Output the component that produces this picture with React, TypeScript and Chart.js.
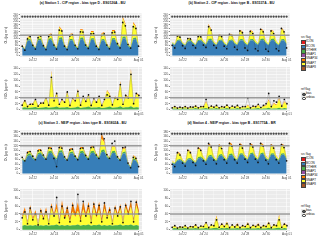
import React, { useEffect, useRef } from "react";
import { Chart, registerables } from "chart.js";
Chart.register(...registerables);

const FONT = "'Liberation Sans', Arial, Helvetica, sans-serif";

// ---- time axis (6-hourly steps from Jul 21 00:00) ----
const STEP_HOURS = 6;
const majorTickHours = [24, 72, 120, 168, 216, 264];
const majorTickLabels = ["Jul 22", "Jul 24", "Jul 26", "Jul 28", "Jul 30", "Aug 01"];
const minorTickHours = [0, 48, 96, 144, 192, 240];
const X_MIN = -5;
const X_MAX = 271;

// ---- source tags ----
const SRC_NAMES = ["ICON", "BCON", "OTHER", "SNAP1", "SNAP34", "SNAP7", "SNAP8"];
const SRC_COLORS = ["#E41A1C", "#377EB8", "#4DAF4A", "#984EA3", "#FF7F00", "#FFFF33", "#A65628"];
const REF_NAMES = ["bias", "unbias"];

const O3_THRESHOLD = 120;
const NO2_THRESHOLD = 40;
const O3_TITLE = "O\u2083 (\u00B5g m\u207B\u00B3)";
const NO2_TITLE = "NO\u2082 (\u00B5g m\u207B\u00B3)";

const stationTitles = [
  "(a)  Station 1 - CIP region - bias type D - ES0126A - BU",
  "(b)  Station 2 - CIP region - bias type B - ES1537A - BU",
  "(c)  Station 3 - NEIP region - bias type B - ES1802A - BU",
  "(d)  Station 4 - NEIP region - bias type B - ES1775A - BR",
];
const o3Max = [240, 240, 180, 180];
const no2Max = [140, 140, 100, 100];

// ---- Station 1 ----
const s1O3Bcon = [50,35,85,90, 55,40,88,92, 52,38,90,95, 55,40,95,98, 50,38,88,90, 52,40,95,98, 55,42,92,95, 50,38,88,90, 55,40,92,95, 58,45,100,102, 55,42,95,98, 50];
const s1O3Other = [6,4,8,8, 6,5,9,8, 6,4,9,9, 7,5,10,10, 6,4,9,8, 7,5,10,9, 6,5,9,9, 6,4,8,8, 7,5,10,9, 7,5,10,10, 6,5,9,9, 6];
const s1O3Snap7 = [5,3,12,15, 6,3,15,18, 6,4,20,22, 8,4,60,40, 8,4,25,28, 8,4,45,40, 10,4,38,35, 8,4,30,35, 8,4,42,40, 12,5,110,70, 12,5,85,60, 8];
const s1O3Snap34 = [2,1,4,4, 2,1,5,5, 2,1,5,6, 3,1,8,6, 2,1,5,6, 3,1,7,6, 3,1,6,6, 2,1,5,6, 3,1,7,6, 3,2,10,8, 3,2,9,7, 2];
const s1O3Obs = [55,32,98,112, 60,38,105,115, 58,35,112,120, 62,38,150,145, 55,35,115,122, 60,40,140,138, 62,42,128,130, 55,36,118,128, 62,40,135,138, 70,45,195,175, 65,44,170,160, 55];
const s1No2Other = [6,8,5,6, 7,9,5,6, 7,9,6,7, 8,10,6,7, 7,9,5,6, 7,10,5,7, 8,10,6,7, 7,9,5,6, 8,10,6,7, 8,11,6,8, 8,11,6,8, 7];
const s1No2Snap7 = [10,22,8,12, 12,25,8,14, 15,30,10,120, 20,45,10,25, 15,50,8,30, 20,55,10,35, 18,40,8,28, 15,35,8,25, 55,40,10,35, 25,80,10,40, 30,120,12,45, 40];
const s1No2Snap34 = [2,3,1,2, 2,3,1,2, 2,4,1,6, 3,5,1,3, 2,5,1,3, 3,5,1,3, 2,4,1,3, 2,4,1,3, 4,4,1,3, 3,6,1,4, 3,8,1,4, 3];
const s1No2Obs = [15,30,10,18, 18,35,12,22, 22,40,15,110, 30,55,18,35, 25,60,14,40, 30,62,15,45, 28,50,14,38, 25,45,14,35, 50,45,16,40, 35,85,18,48, 40,120,20,55, 48];
const s1Flags = "111111111111111111111111111111111111111111111";

// ---- Station 2 ----
const s2O3Bcon = [70,60,85,88, 68,58,82,85, 70,60,85,88, 72,62,90,92, 70,60,85,88, 68,58,85,88, 70,60,88,90, 70,60,88,90, 72,62,90,92, 72,60,90,92, 70,60,88,90, 65];
const s2O3Other = [5,4,7,7, 5,4,7,7, 5,4,7,7, 6,4,8,8, 5,4,7,7, 5,4,7,7, 6,4,8,8, 6,4,8,8, 6,4,8,8, 6,4,8,8, 6,4,8,8, 5];
const s2O3Snap7 = [5,3,25,15, 5,3,12,10, 5,3,22,18, 8,4,80,50, 8,4,28,22, 8,4,32,28, 10,5,50,40, 10,5,48,40, 10,5,55,45, 10,5,48,40, 10,5,62,45, 8];
const s2O3Snap34 = [2,1,4,3, 2,1,3,3, 2,1,4,4, 3,1,8,6, 2,1,4,4, 2,1,5,4, 3,1,6,5, 3,1,6,5, 3,1,7,5, 3,1,6,5, 3,1,7,5, 2];
const s2O3Obs = [60,45,115,108, 58,42,100,98, 60,45,112,110, 62,48,170,150, 60,45,118,112, 55,40,125,118, 50,35,145,135, 45,30,142,130, 40,28,155,140, 38,25,145,130, 40,28,160,140, 45];
const s2No2Other = [3,4,2,3, 3,4,2,3, 3,5,2,3, 4,5,2,4, 3,5,2,3, 3,5,2,3, 3,5,2,3, 3,5,2,3, 4,5,2,4, 4,6,3,4, 4,6,3,5, 4];
const s2No2Snap7 = [3,6,2,4, 3,6,2,5, 4,8,3,6, 5,20,3,8, 4,8,3,6, 4,9,3,7, 4,8,3,6, 4,9,3,6, 5,10,3,8, 8,25,5,15, 10,30,6,20, 12];
const s2No2Snap34 = [1,2,1,1, 1,2,1,1, 1,2,1,1, 1,3,1,2, 1,2,1,1, 1,2,1,1, 1,2,1,1, 1,2,1,1, 1,2,1,2, 2,4,1,3, 2,4,1,3, 2];
const s2No2Obs = [6,10,5,8, 6,10,5,9, 8,12,6,10, 10,35,6,12, 8,14,6,10, 8,15,6,12, 8,14,6,10, 10,40,6,12, 10,18,7,14, 20,55,10,30, 25,45,12,35, 20];
const s2Flags = "111111111111111111111111111111111111111111111";

// ---- Station 3 ----
const s3O3Bcon = [60,50,75,80, 65,55,82,85, 70,58,88,90, 70,60,90,92, 65,55,85,88, 68,58,88,90, 70,60,88,90, 72,62,92,95, 70,60,88,90, 65,55,85,88, 40,25,60,55, 35];
const s3O3Other = [5,4,7,7, 5,4,7,7, 6,5,8,8, 6,5,8,8, 5,4,7,7, 6,5,8,8, 6,5,8,8, 6,5,9,9, 6,5,8,8, 5,4,7,7, 4,3,6,5, 4];
const s3O3Snap7 = [3,2,10,8, 4,2,12,10, 4,2,15,12, 5,3,15,12, 4,2,12,10, 4,2,14,12, 5,3,18,15, 6,3,50,30, 5,3,20,18, 5,3,15,12, 3,2,10,8, 3];
const s3O3Snap34 = [2,1,4,3, 2,1,4,4, 2,1,5,4, 3,1,6,5, 2,1,5,4, 2,1,5,4, 3,1,6,5, 3,2,22,10, 3,1,7,6, 2,1,5,4, 2,1,3,3, 2];
const s3O3Obs = [70,55,90,95, 75,60,98,100, 80,62,110,108, 65,30,112,110, 72,58,102,105, 75,60,108,110, 78,62,112,115, 80,65,170,150, 82,65,130,140, 72,58,112,115, 45,25,70,65, 30];
const s3No2Other = [10,12,10,11, 10,12,9,11, 10,12,10,11, 11,13,10,12, 10,12,10,11, 11,13,10,12, 11,13,10,12, 11,13,10,12, 10,12,10,11, 11,13,10,12, 11,13,10,12, 10];
const s3No2Snap7 = [20,35,8,40, 15,30,6,35, 15,35,8,45, 20,40,8,45, 15,30,10,35, 20,35,12,40, 20,40,10,45, 18,38,10,42, 20,35,8,40, 22,40,10,45, 25,45,12,50, 30];
const s3No2Snap34 = [8,10,3,12, 5,8,2,10, 6,10,3,12, 8,15,5,18, 10,20,8,25, 12,22,10,20, 10,18,8,15, 12,20,8,18, 8,12,4,12, 8,12,5,12, 10,15,5,15, 10];
const s3No2Obs = [30,45,15,55, 25,40,12,48, 28,45,15,58, 35,82,18,60, 30,55,20,62, 40,90,22,72, 35,60,18,65, 38,62,20,68, 30,50,15,55, 35,58,18,62, 40,72,20,70, 40];
const s3Flags = "111111111111111111111111111111111111111111111";

// ---- Station 4 ----
const s4O3Bcon = [45,40,55,58, 50,42,60,62, 52,45,65,68, 58,50,72,75, 60,52,75,78, 62,55,78,80, 62,55,80,82, 65,58,82,85, 65,58,82,85, 62,55,80,82, 62,55,80,82, 60];
const s4O3Other = [4,3,5,5, 4,3,5,5, 4,3,6,5, 5,4,6,6, 5,4,6,6, 5,4,6,6, 5,4,6,6, 5,4,6,6, 5,4,6,6, 5,4,6,6, 5,4,6,6, 4];
const s4O3Snap7 = [5,3,30,20, 6,3,35,25, 6,3,38,28, 8,4,45,35, 8,4,40,30, 8,4,45,35, 8,4,40,30, 8,4,38,28, 8,4,40,30, 8,4,35,28, 8,4,38,30, 6];
const s4O3Snap34 = [2,1,5,4, 2,1,5,4, 2,1,6,5, 3,1,7,6, 3,1,6,5, 3,1,7,6, 3,1,6,5, 3,1,6,5, 3,1,6,5, 3,1,6,5, 3,1,6,5, 2];
const s4O3Obs = [40,30,90,80, 45,32,100,90, 48,35,110,100, 55,40,130,115, 58,42,120,108, 60,45,130,118, 60,45,125,110, 62,48,128,115, 62,48,130,118, 58,42,122,110, 60,45,125,112, 55];
const s4No2Other = [3,4,2,3, 3,4,2,3, 3,4,2,3, 3,5,2,3, 4,5,2,4, 3,5,2,3, 3,4,2,3, 3,5,2,3, 3,4,2,3, 3,5,2,3, 4,5,2,4, 3];
const s4No2Snap7 = [3,6,2,4, 3,7,2,5, 4,8,2,6, 5,12,3,8, 6,28,3,10, 5,14,3,8, 4,10,3,7, 4,12,3,8, 5,10,3,8, 5,14,3,9, 6,30,4,10, 8];
const s4No2Snap34 = [1,1,1,1, 1,1,1,1, 1,2,1,1, 1,2,1,1, 1,3,1,2, 1,2,1,1, 1,2,1,1, 1,2,1,1, 1,2,1,1, 1,2,1,1, 1,3,1,2, 1];
const s4No2Obs = [6,10,4,7, 6,10,4,8, 7,12,5,9, 8,18,5,12, 10,25,6,14, 8,15,5,12, 7,12,5,10, 8,14,5,11, 8,12,5,10, 8,16,5,12, 10,25,6,14, 10];
const s4Flags = "111111111111111111111111111111111111111111111";

const C = (name: string) => SRC_COLORS[SRC_NAMES.indexOf(name)];

// ---- layout ----
const Y_W = 16, PAD_L = 4, PAD_R = 1, PAD_T = 2, X_H = 6;

type Layer = { values: number[]; color: string };
type PanelProps = {
  left: number; top: number; right: number; bottom: number;
  layers: Layer[]; obs: number[]; flags?: string;
  yMax: number; threshold: number; yTitle: string;
};

function Panel(p: PanelProps) {
  const ref = useRef<HTMLCanvasElement>(null);
  const w = p.right - p.left + Y_W + PAD_L + PAD_R;
  const h = p.bottom - p.top + PAD_T + X_H;
  useEffect(() => {
    const canvas = ref.current!;
    const xOf = (j: number) => j * STEP_HOURS;
    const datasets: any[] = [];
    p.layers.forEach((layer, i) => {
      datasets.push({
        type: "line",
        data: layer.values.map((v, j) => ({ x: xOf(j), y: v })),
        backgroundColor: layer.color,
        borderColor: layer.color,
        borderWidth: 0,
        pointRadius: 0,
        fill: i === 0 ? "origin" : "-1",
        stack: "src",
        tension: 0,
        order: 2,
      });
    });
    datasets.push({
      type: "line",
      data: p.obs.map((v, j) => ({ x: xOf(j), y: v })),
      borderColor: "rgba(30,30,30,0.55)",
      borderWidth: 0.35,
      pointRadius: 0.85,
      pointBackgroundColor: "#111",
      pointBorderWidth: 0,
      showLine: true,
      fill: false,
      stack: "obs",
      order: 0,
    });
    if (p.flags) {
      const flagY = p.yMax * 0.955;
      const fl = p.flags.split("");
      datasets.push({
        type: "line",
        data: fl.map((_, j) => ({ x: xOf(j), y: flagY })),
        showLine: false,
        pointRadius: 0.85,
        pointBackgroundColor: fl.map((f) => (f === "1" ? "#555" : "#fff")),
        pointBorderColor: "#222",
        pointBorderWidth: 0.35,
        fill: false,
        stack: "flag",
        order: 0,
      });
    }
    const yStep = 20;
    const yTicks: number[] = [];
    for (let v = 0; v <= p.yMax + 1e-9; v += yStep / 2) yTicks.push(v);
    const xTicks = [...minorTickHours, ...majorTickHours].sort((a, b) => a - b);
    const yPad = p.yMax * 0.035;
    const chart = new Chart(canvas, {
      type: "line",
      data: { datasets },
      options: {
        animation: false,
        responsive: false,
        devicePixelRatio: 1,
        events: [],
        layout: { padding: { left: PAD_L, right: PAD_R, top: PAD_T, bottom: 0 } },
        plugins: { legend: { display: false }, tooltip: { enabled: false } },
        scales: {
          x: {
            type: "linear",
            min: X_MIN,
            max: X_MAX,
            afterBuildTicks: (s: any) => { s.ticks = xTicks.map((v) => ({ value: v })); },
            afterFit: (s: any) => { s.height = X_H; },
            ticks: {
              autoSkip: false,
              maxRotation: 0,
              padding: 0.3,
              font: { size: 3.1, family: FONT },
              color: "#4D4D4D",
              callback: (v: any) => {
                const k = majorTickHours.indexOf(Number(v));
                return k >= 0 ? majorTickLabels[k] : "";
              },
            },
            grid: {
              color: "#ffffff",
              lineWidth: (ctx: any) => (ctx.tick && majorTickHours.includes(ctx.tick.value) ? 0.6 : 0.3),
              tickColor: (ctx: any) => (ctx.tick && majorTickHours.includes(ctx.tick.value) ? "#333" : "rgba(0,0,0,0)"),
              tickLength: 1.2,
              drawTicks: true,
            },
            border: { display: false },
          },
          y: {
            type: "linear",
            stacked: true,
            min: -yPad,
            max: p.yMax + yPad,
            afterBuildTicks: (s: any) => { s.ticks = yTicks.map((v) => ({ value: v })); },
            afterFit: (s: any) => { s.width = Y_W; },
            ticks: {
              autoSkip: false,
              padding: 0.5,
              font: { size: 3.1, family: FONT },
              color: "#4D4D4D",
              callback: (v: any) => (Number(v) % yStep === 0 ? String(v) : ""),
            },
            grid: {
              color: "#ffffff",
              lineWidth: (ctx: any) => (ctx.tick && ctx.tick.value % yStep === 0 ? 0.6 : 0.3),
              tickColor: (ctx: any) => (ctx.tick && ctx.tick.value % yStep === 0 ? "#333" : "rgba(0,0,0,0)"),
              tickLength: 1.2,
              drawTicks: true,
            },
            border: { display: false },
            title: {
              display: true,
              text: p.yTitle,
              font: { size: 3.3, family: FONT },
              color: "#111",
              padding: { top: 0, bottom: 0.5 },
            },
          },
        },
      },
      plugins: [
        {
          id: "panelBg",
          beforeDraw: (c: any) => {
            const a = c.chartArea;
            c.ctx.save();
            c.ctx.fillStyle = "#EBEBEB";
            c.ctx.fillRect(a.left, a.top, a.right - a.left, a.bottom - a.top);
            c.ctx.restore();
          },
        },
        {
          id: "threshold",
          afterDatasetsDraw: (c: any) => {
            const a = c.chartArea;
            const yy = c.scales.y.getPixelForValue(p.threshold);
            c.ctx.save();
            c.ctx.strokeStyle = "rgba(150,150,150,0.95)";
            c.ctx.lineWidth = 1.4;
            c.ctx.beginPath();
            c.ctx.moveTo(a.left, yy);
            c.ctx.lineTo(a.right, yy);
            c.ctx.stroke();
            c.ctx.restore();
          },
        },
      ],
    } as any);
    return () => chart.destroy();
  }, []);
  return (
    <canvas
      ref={ref}
      width={w}
      height={h}
      style={{ position: "absolute", left: p.left - Y_W - PAD_L, top: p.top - PAD_T, width: w, height: h }}
    />
  );
}

function Title({ text, cx, cy }: { text: string; cx: number; cy: number }) {
  return (
    <div
      style={{
        position: "absolute", left: cx - 90, top: cy - 2.2, width: 180, textAlign: "center",
        font: `bold 3.4px ${FONT}`, lineHeight: "4px", color: "#111", whiteSpace: "nowrap",
      }}
    >
      {text}
    </div>
  );
}

function SrcLegend({ left, top }: { left: number; top: number }) {
  return (
    <div style={{ position: "absolute", left, top, font: `3px ${FONT}`, color: "#111" }}>
      <div style={{ position: "absolute", left: 0, top: -1.5, whiteSpace: "nowrap", lineHeight: "3px" }}>src flag</div>
      {SRC_NAMES.map((n, i) => (
        <div key={n} style={{ position: "absolute", left: 0, top: 3 + i * 4.3, whiteSpace: "nowrap" }}>
          <div style={{ position: "absolute", left: 0, top: 0, width: 4, height: 4, background: "#EBEBEB" }} />
          <div style={{ position: "absolute", left: 0.4, top: 0.4, width: 2.6, height: 2.6, background: SRC_COLORS[i], border: "0.3px solid #444" }} />
          <div style={{ position: "absolute", left: 5, top: 0.3, lineHeight: "3px" }}>{n}</div>
        </div>
      ))}
    </div>
  );
}

function RefLegend({ left, top }: { left: number; top: number }) {
  return (
    <div style={{ position: "absolute", left, top, font: `3px ${FONT}`, color: "#111" }}>
      <div style={{ position: "absolute", left: 0, top: -1.5, whiteSpace: "nowrap", lineHeight: "3px" }}>ref flag</div>
      {REF_NAMES.map((n, i) => (
        <div key={n} style={{ position: "absolute", left: 0, top: 2.5 + i * 4.3, whiteSpace: "nowrap" }}>
          <div style={{ position: "absolute", left: 0, top: 0, width: 4, height: 4, background: "#EBEBEB" }} />
          <div style={{ position: "absolute", left: 1.1, top: 1.1, width: 1.6, height: 1.6, borderRadius: "50%", background: i === 0 ? "#555" : "#fff", border: "0.3px solid #222" }} />
          <div style={{ position: "absolute", left: 5, top: 0.3, lineHeight: "3px" }}>{n}</div>
        </div>
      ))}
    </div>
  );
}

const stations = [
  { o3: [s1O3Bcon, s1O3Other, s1O3Snap7, s1O3Snap34], o3Obs: s1O3Obs, no2: [s1No2Other, s1No2Snap7, s1No2Snap34], no2Obs: s1No2Obs, flags: s1Flags },
  { o3: [s2O3Bcon, s2O3Other, s2O3Snap7, s2O3Snap34], o3Obs: s2O3Obs, no2: [s2No2Other, s2No2Snap7, s2No2Snap34], no2Obs: s2No2Obs, flags: s2Flags },
  { o3: [s3O3Bcon, s3O3Other, s3O3Snap7, s3O3Snap34], o3Obs: s3O3Obs, no2: [s3No2Other, s3No2Snap7, s3No2Snap34], no2Obs: s3No2Obs, flags: s3Flags },
  { o3: [s4O3Bcon, s4O3Other, s4O3Snap7, s4O3Snap34], o3Obs: s4O3Obs, no2: [s4No2Other, s4No2Snap7, s4No2Snap34], no2Obs: s4No2Obs, flags: s4Flags },
];
const o3Colors = [C("BCON"), C("OTHER"), C("SNAP7"), C("SNAP34")];
const no2Colors = [C("OTHER"), C("SNAP7"), C("SNAP34")];

// plot-area boxes [left, right, o3Top, o3Bottom, no2Top, no2Bottom, titleY]
const boxes = [
  [20, 145, 11, 57, 65, 111, 3.5],
  [170, 293, 11, 57, 65, 111, 3.5],
  [20, 145, 128, 175, 187, 231, 123.5],
  [170, 293, 128, 175, 187, 231, 123.5],
];

export default function App() {
  return (
    <div style={{ position: "fixed", left: 0, top: 0, width: 320, height: 240, background: "#fff", overflow: "hidden" }}>
      {stations.map((s, i) => {
        const [l, r, t1, b1, t2, b2, ty] = boxes[i];
        return (
          <React.Fragment key={i}>
            <Title text={stationTitles[i]} cx={(l + r) / 2} cy={ty} />
            <Panel left={l} right={r} top={t1} bottom={b1}
              layers={s.o3.map((v, k) => ({ values: v, color: o3Colors[k] }))}
              obs={s.o3Obs} flags={s.flags} yMax={o3Max[i]} threshold={O3_THRESHOLD} yTitle={O3_TITLE} />
            <Panel left={l} right={r} top={t2} bottom={b2}
              layers={s.no2.map((v, k) => ({ values: v, color: no2Colors[k] }))}
              obs={s.no2Obs} yMax={no2Max[i]} threshold={NO2_THRESHOLD} yTitle={NO2_TITLE} />
          </React.Fragment>
        );
      })}
      <SrcLegend left={301} top={37} />
      <RefLegend left={301} top={89} />
      <SrcLegend left={301} top={154} />
      <RefLegend left={301} top={206} />
    </div>
  );
}
